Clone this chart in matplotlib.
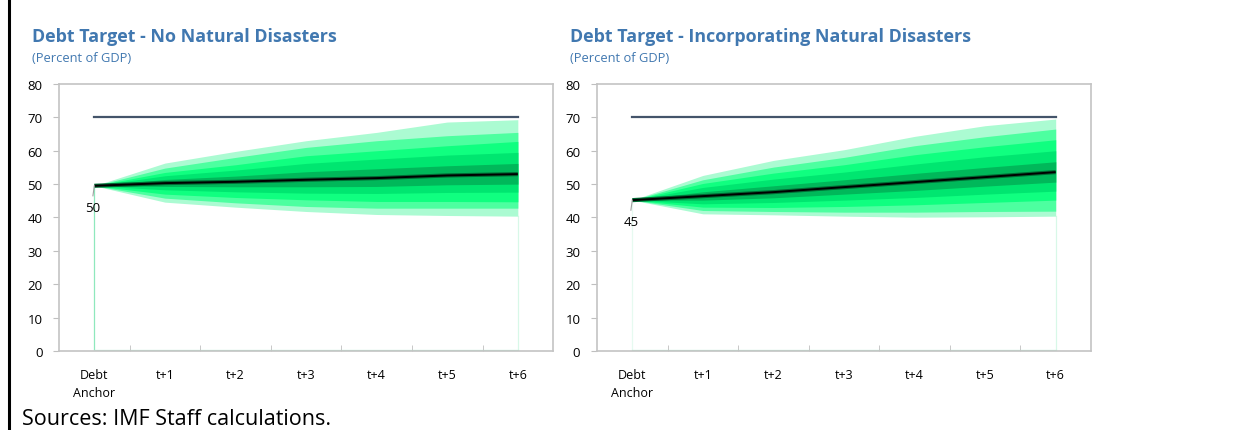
import numpy as np
import matplotlib.pyplot as plt

plt.rcParams['font.family'] = ['Open Sans', 'DejaVu Sans']

# categories
categories = ['Debt\nAnchor', 't+1', 't+2', 't+3', 't+4', 't+5', 't+6']
debt_limit = 70

# panel 1: no natural disasters (percentiles of debt path)
nd_median = [49.5, 50.3, 50.7, 51.3, 51.8, 52.6, 53.0]
nd_p95 = [49.5, 56.3, 59.8, 63.0, 65.5, 68.6, 69.3]
nd_p90 = [49.5, 54.8, 58.0, 61.0, 63.0, 64.5, 65.5]
nd_p80 = [49.5, 53.5, 55.8, 58.5, 60.0, 61.5, 62.8]
nd_p70 = [49.5, 52.5, 54.2, 56.2, 57.5, 58.7, 59.5]
nd_p60 = [49.5, 51.4, 52.4, 53.7, 54.6, 55.5, 56.2]
nd_p40 = [49.5, 49.3, 49.2, 49.2, 49.3, 49.8, 50.0]
nd_p30 = [49.5, 48.3, 47.7, 47.3, 47.2, 47.5, 47.6]
nd_p20 = [49.5, 47.0, 46.0, 45.3, 44.8, 44.8, 44.7]
nd_p10 = [49.5, 45.8, 44.4, 43.3, 42.8, 42.8, 42.8]
nd_p5 = [49.5, 44.6, 43.1, 41.8, 40.9, 40.6, 40.4]

# panel 2: incorporating natural disasters
wd_median = [45.2, 46.4, 47.6, 49.1, 50.6, 52.1, 53.6]
wd_p95 = [45.2, 52.6, 57.1, 60.3, 64.3, 67.5, 69.5]
wd_p90 = [45.2, 51.3, 55.1, 58.0, 61.5, 64.2, 66.5]
wd_p80 = [45.2, 50.2, 53.3, 55.8, 58.8, 61.2, 63.3]
wd_p70 = [45.2, 49.0, 51.5, 53.6, 56.0, 58.2, 60.0]
wd_p60 = [45.2, 47.7, 49.5, 51.3, 53.2, 55.0, 56.7]
wd_p40 = [45.2, 45.2, 45.9, 47.0, 48.1, 49.4, 50.6]
wd_p30 = [45.2, 44.1, 44.5, 45.2, 46.0, 47.0, 47.9]
wd_p20 = [45.2, 43.1, 43.0, 43.3, 43.8, 44.5, 45.2]
wd_p10 = [45.2, 42.1, 41.8, 41.6, 41.6, 41.8, 41.9]
wd_p5 = [45.2, 41.1, 40.8, 40.4, 40.1, 40.2, 40.4]

blue = '#4178b0'
band_colors = ['#abfbd2', '#4dffa0', '#10ff80', '#00e670', '#00b85a']

fig = plt.figure(figsize=(12.43, 4.31), dpi=100)

# left border line
fig.add_artist(plt.Line2D([0.0072, 0.0072], [0, 1], color='black', lw=2.2))


def fan_panel(rect, title, lows, highs, median, label, anchor_col):
    ax = fig.add_axes(rect)
    x = np.arange(len(categories))
    # bands from outside in
    for (lo, hi), c in zip(zip(lows, highs), band_colors):
        ax.fill_between(x, lo, hi, color=c, lw=0, zorder=2)
    # median with dark glow
    ax.plot(x, median, color='#006a34', lw=3, zorder=3, solid_capstyle='butt')
    ax.plot(x, median, color='black', lw=1.4, zorder=4, solid_capstyle='butt')
    # debt limit line
    ax.plot([x[0], x[-1]], [debt_limit, debt_limit], color='#44546a', lw=1.6, zorder=4)
    # area edges
    ax.plot([x[0], x[0]], [0, median[0]], color=anchor_col, lw=0.9, zorder=1)
    ax.plot([x[-1], x[-1]], [0, lows[0][-1]], color='#d8f8e8', lw=0.9, zorder=1)
    ax.plot([x[0], x[-1]], [0.15, 0.15], color='#b5eed2', lw=0.9, zorder=1)
    # data label
    ax.plot([x[0], x[0] - 0.02], [median[0], median[0] - 3.0], color='#a0a0a0', lw=0.8, zorder=4)
    ax.text(x[0] - 0.02, median[0] - 6.4, label, ha='center', va='center', fontsize=9.5, zorder=5)

    ax.set_xlim(-0.5, len(categories) - 0.5)
    ax.set_ylim(0, 80)
    ax.set_yticks(range(0, 81, 10))
    ax.set_xticks(x)
    ax.set_xticklabels(categories, fontsize=9, linespacing=1.5)
    ax.set_xticks(x[:-1] + 0.5, minor=True)
    ax.tick_params(axis='x', which='major', length=0, pad=12)
    ax.tick_params(axis='x', which='minor', direction='in', length=4, color='#bfbfbf')
    ax.tick_params(axis='y', length=4, color='#bfbfbf', labelsize=9.5, pad=8)
    for s in ax.spines.values():
        s.set_color('#c4c4c4')
        s.set_linewidth(1.2)
    ax.text(-0.055, 1.18, title, transform=ax.transAxes, fontsize=12.9,
            fontweight='bold', color=blue, va='center', ha='left')
    ax.text(-0.055, 1.10, '(Percent of GDP)', transform=ax.transAxes, fontsize=9.3,
            color=blue, va='center', ha='left')
    return ax


fan_panel([0.0475, 0.1833, 0.3975, 0.6195], 'Debt Target - No Natural Disasters',
          [nd_p5, nd_p10, nd_p20, nd_p30, nd_p40],
          [nd_p95, nd_p90, nd_p80, nd_p70, nd_p60], nd_median, '50', '#8fe8bd')
fan_panel([0.4803, 0.1833, 0.3974, 0.6195], 'Debt Target - Incorporating Natural Disasters',
          [wd_p5, wd_p10, wd_p20, wd_p30, wd_p40],
          [wd_p95, wd_p90, wd_p80, wd_p70, wd_p60], wd_median, '45', '#e6faf0')

fig.text(0.0177, 0.002, 'Sources: IMF Staff calculations.', fontsize=15.5, va='bottom', ha='left')

fig.savefig('out.png', dpi=100)
